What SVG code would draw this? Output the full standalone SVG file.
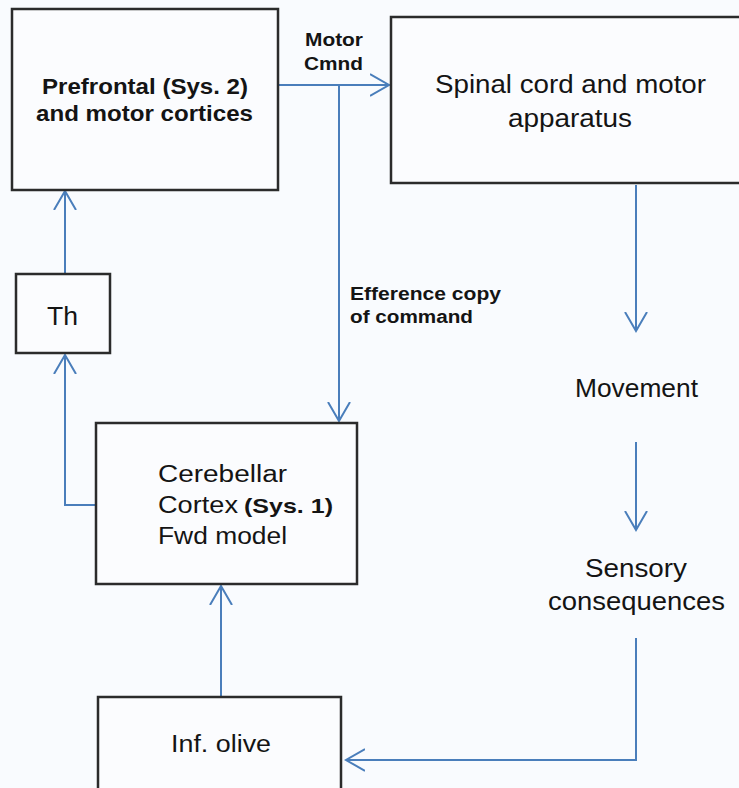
<svg xmlns="http://www.w3.org/2000/svg" width="739" height="788" viewBox="0 0 739 788">
<style>
.box{fill:#fbfcfe;stroke:#2b2b2b;stroke-width:2.5}
.t{font-family:"Liberation Sans",Arial,sans-serif;fill:#141414}
.b{font-weight:bold}
.c{fill:none;stroke:#4a7ebb;stroke-width:2}
</style>
<defs>
<marker id="arr" markerUnits="userSpaceOnUse" markerWidth="22" markerHeight="26" refX="19" refY="12" orient="auto">
<path d="M0,1 L19,12 L0,23" fill="none" stroke="#4a7ebb" stroke-width="2"/>
</marker>
</defs>
<rect width="739" height="788" fill="#f9fbfe"/>
<g id="connectors">
<path class="c" d="M278,85 H389" marker-end="url(#arr)"/>
<path class="c" d="M339,85 V421" marker-end="url(#arr)"/>
<path class="c" d="M636,185 V331" marker-end="url(#arr)"/>
<path class="c" d="M636,442 V530" marker-end="url(#arr)"/>
<path class="c" d="M636,638 V760 H346" marker-end="url(#arr)"/>
<path class="c" d="M221,697 V586" marker-end="url(#arr)"/>
<path class="c" d="M96,505 H65 V355" marker-end="url(#arr)"/>
<path class="c" d="M65,274 V191" marker-end="url(#arr)"/>
</g>
<g id="prefrontal">
<rect class="box" x="12" y="9" width="266" height="181"/>
<text class="t b" font-size="22" x="42" y="94" textLength="206" lengthAdjust="spacingAndGlyphs">Prefrontal (Sys. 2)</text>
<text class="t b" font-size="22" x="36" y="121" textLength="217" lengthAdjust="spacingAndGlyphs">and motor cortices</text>
</g>
<g id="spinal">
<rect class="box" x="391" y="17" width="360" height="166"/>
<text class="t" font-size="25" x="435" y="93" textLength="271" lengthAdjust="spacingAndGlyphs">Spinal cord and motor</text>
<text class="t" font-size="25" x="508" y="127" textLength="124" lengthAdjust="spacingAndGlyphs">apparatus</text>
</g>
<g id="th">
<rect class="box" x="16" y="274" width="94" height="79"/>
<text class="t" font-size="26" x="47" y="325" textLength="31" lengthAdjust="spacingAndGlyphs">Th</text>
</g>
<g id="cerebellar">
<rect class="box" x="96" y="423" width="261" height="161"/>
<text class="t" font-size="23" x="158" y="482" textLength="129" lengthAdjust="spacingAndGlyphs">Cerebellar</text>
<text class="t" font-size="23" y="513"><tspan x="158" textLength="80" lengthAdjust="spacingAndGlyphs">Cortex</tspan> <tspan class="b" font-size="21" x="244" textLength="89" lengthAdjust="spacingAndGlyphs">(Sys. 1)</tspan></text>
<text class="t" font-size="23" x="158" y="544" textLength="129" lengthAdjust="spacingAndGlyphs">Fwd model</text>
</g>
<g id="olive">
<rect class="box" x="98" y="697" width="243" height="110"/>
<text class="t" font-size="23" x="171" y="752" textLength="100" lengthAdjust="spacingAndGlyphs">Inf. olive</text>
</g>
<g id="movement">
<text class="t" font-size="25" x="575" y="397" textLength="123" lengthAdjust="spacingAndGlyphs">Movement</text>
</g>
<g id="sensory">
<text class="t" font-size="25" x="585" y="577" textLength="102" lengthAdjust="spacingAndGlyphs">Sensory</text>
<text class="t" font-size="25" x="548" y="610" textLength="177" lengthAdjust="spacingAndGlyphs">consequences</text>
</g>
<g id="labels">
<text class="t b" font-size="18" x="305" y="46" textLength="58" lengthAdjust="spacingAndGlyphs">Motor</text>
<text class="t b" font-size="18" x="304" y="70" textLength="59" lengthAdjust="spacingAndGlyphs">Cmnd</text>
<text class="t b" font-size="18" x="350" y="300" textLength="151" lengthAdjust="spacingAndGlyphs">Efference copy</text>
<text class="t b" font-size="18" x="350" y="323" textLength="123" lengthAdjust="spacingAndGlyphs">of command</text>
</g>
</svg>
